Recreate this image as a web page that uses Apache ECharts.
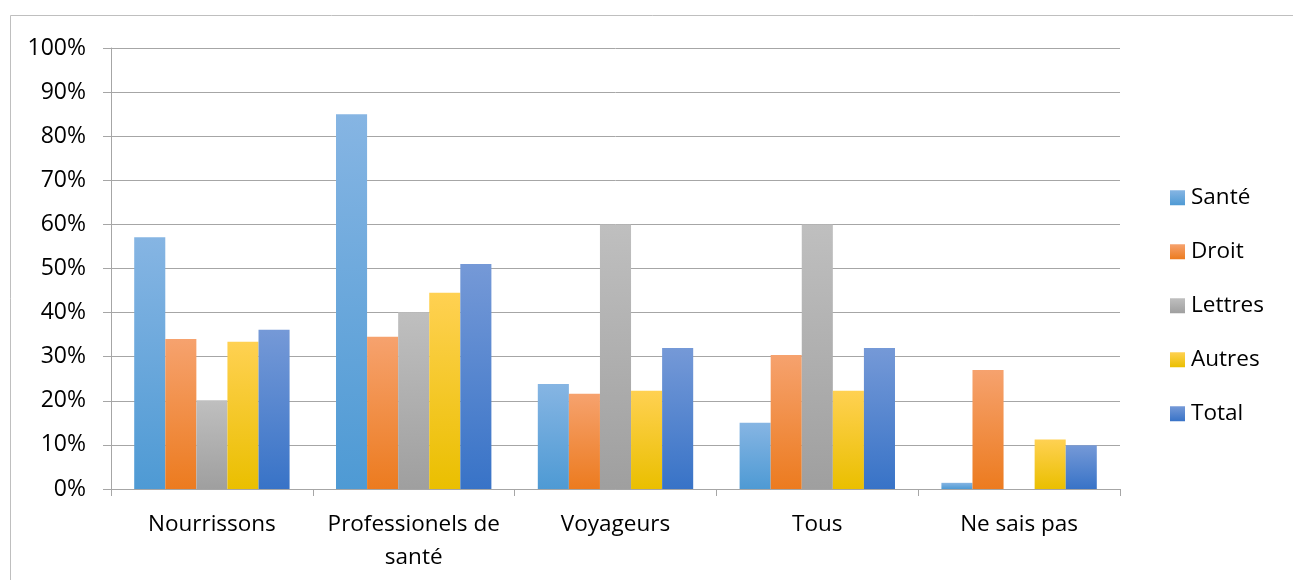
<!DOCTYPE html>
<html>
<head>
<meta charset="utf-8">
<style>
  html, body { margin: 0; padding: 0; background: #fff; }
  #chart { width: 1293px; height: 580px; }
</style>
</head>
<body>
<div id="chart"></div>
<script src="https://cdn.jsdelivr.net/npm/echarts@6/dist/echarts.min.js"></script>
<script>
// categories and series values (percent)
var categories = ['Nourrissons', 'Professionels de\nsanté', 'Voyageurs', 'Tous', 'Ne sais pas'];
var sante   = [57.1, 85.0, 23.8, 15.0, 1.4];
var droit   = [34.0, 34.5, 21.6, 30.4, 27.0];
var lettres = [20.1, 40.1, 60.0, 60.0, 0];
var autres  = [33.4, 44.5, 22.3, 22.3, 11.2];
var total   = [36.1, 51.0, 32.0, 32.0, 9.9];
var yTicks  = [0, 10, 20, 30, 40, 50, 60, 70, 80, 90, 100];

var chart = echarts.init(document.getElementById('chart'));

function grad(top, bottom) {
    return new echarts.graphic.LinearGradient(0, 0, 0, 1, [
        {offset: 0, color: top},
        {offset: 1, color: bottom}
    ]);
}

function bar(name, data, top, bottom) {
    return {
        name: name,
        type: 'bar',
        data: data,
        barGap: '0%',
        barCategoryGap: '23%',
        itemStyle: {color: grad(top, bottom)}
    };
}

var font = '"Open Sans", sans-serif';

chart.setOption({
    animation: false,
    graphic: [{
        type: 'rect',
        left: 8, top: 13,
        shape: {width: 1320, height: 620},
        style: {fill: 'none', stroke: '#bfbfbf', lineWidth: 1}
    }],
    grid: {left: 111, right: 173, top: 48, bottom: 91},
    legend: {
        orient: 'vertical',
        left: 1165,
        top: 181,
        itemWidth: 15,
        itemHeight: 15,
        itemGap: 30.5,
        icon: 'rect',
        textStyle: {fontFamily: font, fontSize: 22.5, color: '#000', padding: [0, 0, 0, 1], lineHeight: 23.5},
        data: ['Santé', 'Droit', 'Lettres', 'Autres', 'Total']
    },
    xAxis: {
        type: 'category',
        data: categories,
        axisLine: {lineStyle: {color: '#a6a6a6', width: 1}},
        axisTick: {show: true, length: 7, lineStyle: {color: '#a6a6a6'}},
        axisLabel: {
            fontFamily: font, fontSize: 22.5, color: '#000',
            margin: 19, lineHeight: 33, interval: 0
        }
    },
    yAxis: {
        type: 'value',
        min: yTicks[0],
        max: yTicks[yTicks.length - 1],
        interval: 10,
        axisLine: {show: true, lineStyle: {color: '#a6a6a6', width: 1}},
        axisTick: {show: true, length: 8, lineStyle: {color: '#a6a6a6'}},
        splitLine: {lineStyle: {color: '#a6a6a6', width: 1}},
        axisLabel: {
            fontFamily: font, fontSize: 23, color: '#000', margin: 25,
            formatter: function (v) { return v + '%'; }
        }
    },
    series: [
        bar('Santé', sante, '#86b5e3', '#4e9ad4'),
        bar('Droit', droit, '#f6a26e', '#ec7b1f'),
        bar('Lettres', lettres, '#bfbfbf', '#9f9f9f'),
        bar('Autres', autres, '#ffd152', '#eabf00'),
        bar('Total', total, '#7599d7', '#3873c7')
    ]
});
</script>
</body>
</html>
